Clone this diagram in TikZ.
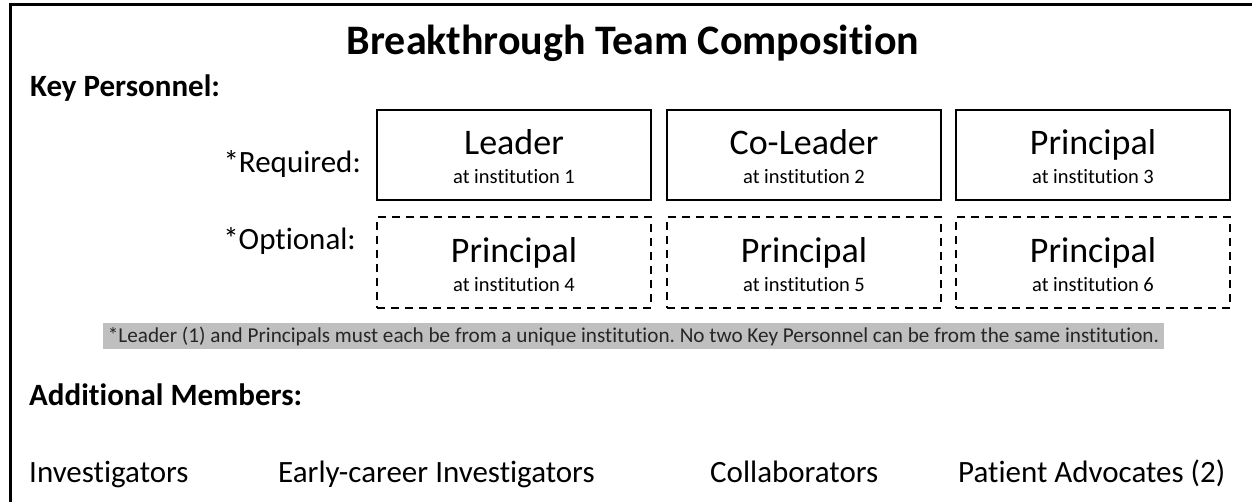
\documentclass[tikz,border=0pt]{standalone}
\usepackage{fontspec}
\setmainfont{Carlito}[Ligatures={NoCommon}]
\frenchspacing
\definecolor{hlgray}{RGB}{191,191,191}

\begin{document}
\begin{tikzpicture}[x=1pt, y=1pt,
		keybox/.style={draw, line width=2pt, minimum width=274pt, minimum height=90pt, inner sep=0pt},
		optbox/.style={keybox, minimum height=91pt, dash pattern=on 8pt off 6pt},
		role/.style={anchor=base, inner sep=0pt, font=\fontsize{36}{40}\selectfont},
		inst/.style={anchor=base, inner sep=0pt, font=\fontsize{20.5}{24}\selectfont},
		heading/.style={anchor=base west, inner sep=0pt, font=\bfseries\fontsize{31}{36}\selectfont},
		rowlabel/.style={anchor=base east, inner sep=0pt, font=\fontsize{31}{36}\selectfont},
		member/.style={anchor=base west, inner sep=0pt, font=\fontsize{31}{36}\selectfont}]
	\useasboundingbox (0,0) rectangle (1252,501);
	
	% Outer frame (open to the right and bottom)
	\draw[line width=3pt] (1256,496) -- (10,496) -- (10,-4);
	
	% Title and first heading
	\node[anchor=base, inner sep=0pt, font=\bfseries\fontsize{42}{50}\selectfont] (title) at (633,446) {Breakthrough Team Composition};
	\node[heading] (keyp) at (30,404) {Key Personnel:};
	
	% Row labels
	\node[rowlabel] (req) at (361,328) {*Required:};
	\node[rowlabel] (opt) at (356,251) {*Optional:};
	
	% Required key personnel
	\foreach \name/\x/\lbl/\idx in {lead/514/Leader/1, colead/804/Co-Leader/2, prin3/1093/Principal/3} {
		\node[keybox] (\name) at (\x,346) {};
		\node[role] (\name-role) at (\name.center) {\lbl};
		\node[inst] (\name-inst) at ([yshift=-29pt]\name.center) {at institution \idx};
	}
	
	% Optional key personnel
	\foreach \name/\x/\idx in {prin4/514/4, prin5/804/5, prin6/1093/6} {
		\node[optbox] (\name) at (\x,238.5) {};
		\node[role] (\name-role) at (\name.center) {Principal};
		\node[inst] (\name-inst) at ([yshift=-29pt]\name.center) {at institution \idx};
	}
	
	% Highlighted footnote
	\node[fill=hlgray, minimum width=1061pt, minimum height=26pt, inner sep=0pt, text height=15.5pt, text depth=3.5pt,
		font=\fontsize{21.2}{24}\selectfont, text=black!85] (note) at (633.5,165)
		{*Leader (1) and Principals must each be from a unique institution. No two Key Personnel can be from the same institution.};
	
	% Additional members
	\node[heading] (addm) at (29,96) {Additional Members:};
	\node[member] (inv) at (29,19) {Investigators};
	\node[member] (early) at (278,19) {Early-career Investigators};
	\node[member] (collab) at (710,19) {Collaborators};
	\node[member] (patient) at (958,19) {Patient Advocates (2)};
\end{tikzpicture}
\end{document}
